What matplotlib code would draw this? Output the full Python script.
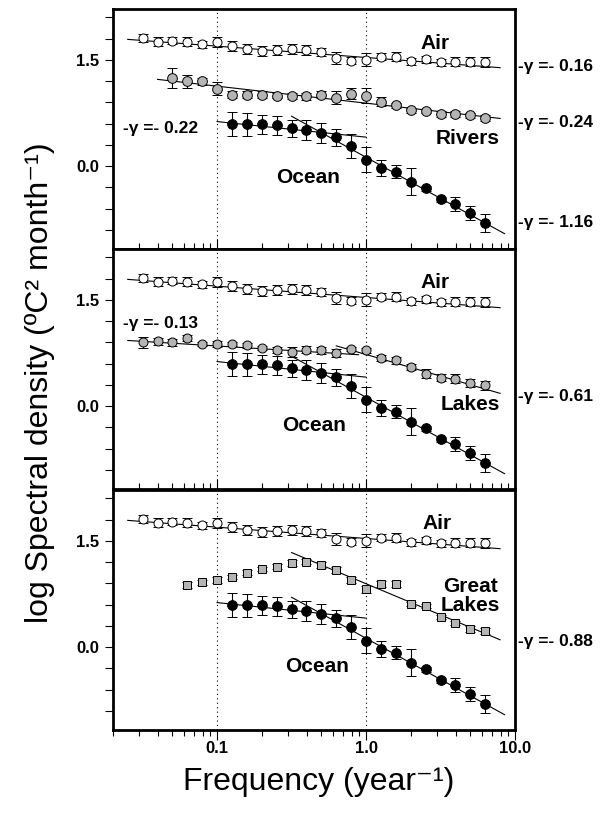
import numpy as np
import matplotlib
matplotlib.use('Agg')
import matplotlib.pyplot as plt
from matplotlib.ticker import FixedLocator, NullFormatter, FixedFormatter
import matplotlib.transforms as mtransforms

plt.rcParams['font.family'] = ['Liberation Sans', 'DejaVu Sans']
plt.rcParams['font.weight'] = 'bold'

# log10 of frequency, 0.1 decade steps
air_logf = np.arange(-1.5, 0.81, 0.1)
air_y = [1.81, 1.76, 1.77, 1.76, 1.725, 1.75, 1.70, 1.66, 1.63, 1.64, 1.655, 1.64,
         1.61, 1.53, 1.49, 1.505, 1.546, 1.546, 1.48, 1.51, 1.47, 1.475, 1.475, 1.47]
air_err = [0.06, 0.06, 0.05, 0.06, 0.05, 0.07, 0.07, 0.07, 0.07, 0.07, 0.07, 0.07,
           0.06, 0.08, 0.05, 0.09, 0.05, 0.06, 0.05, 0.05, 0.05, 0.06, 0.06, 0.07]

ocean_logf = np.arange(-0.9, 0.81, 0.1)
ocean_y = [0.59, 0.59, 0.59, 0.576, 0.538, 0.506, 0.468, 0.411, 0.28, 0.094, -0.025,
           -0.08, -0.22, -0.314, -0.47, -0.535, -0.66, -0.80]
ocean_err = [0.17, 0.16, 0.13, 0.13, 0.12, 0.14, 0.14, 0.12, 0.17, 0.17, 0.11, 0.09,
             0.19, 0.03, 0.03, 0.1, 0.1, 0.13]

rivers_logf = np.arange(-1.3, 0.81, 0.1)
rivers_y = [1.247, 1.20, 1.20, 1.092, 1.008, 1.008, 1.008, 0.998, 0.988, 0.988, 1.008,
            0.965, 1.022, 0.998, 0.913, 0.857, 0.787, 0.777, 0.74, 0.74, 0.717, 0.684]
rivers_err = [0.14, 0.09, 0.05, 0.09, 0.05, 0.05, 0.05, 0.04, 0.04, 0.05, 0.05, 0.09,
              0.08, 0.1, 0.06, 0.04, 0.03, 0.03, 0.04, 0.04, 0.04, 0.04]

lakes_logf = np.arange(-1.5, 0.81, 0.1)
lakes_y = [0.904, 0.918, 0.904, 0.965, 0.881, 0.881, 0.881, 0.857, 0.825, 0.797, 0.763,
           0.797, 0.787, 0.749, 0.81, 0.787, 0.679, 0.646, 0.552, 0.459, 0.403, 0.389,
           0.327, 0.295]
lakes_err = [0.08, 0.05, 0.05, 0.04, 0.03, 0.04, 0.03, 0.03, 0.03, 0.04, 0.07, 0.05,
             0.05, 0.06, 0.03, 0.03, 0.04, 0.05, 0.04, 0.06, 0.05, 0.06, 0.05, 0.06]

glakes_logf = np.arange(-1.2, 0.81, 0.1)
glakes_y = [0.881, 0.914, 0.951, 0.989, 1.054, 1.101, 1.139, 1.186, 1.209, 1.162, 1.092,
            0.951, 0.821, 0.895, 0.895, 0.614, 0.586, 0.427, 0.342, 0.258, 0.224]
glakes_err = [0.04, 0.03, 0.04, 0.03, 0.03, 0.03, 0.03, 0.04, 0.04, 0.04, 0.04,
              0.04, 0.05, 0.04, 0.04, 0.03, 0.03, 0.03, 0.03, 0.04, 0.04]

# fitted lines: (slope = -gamma, intercept at f=1, log10 f start, log10 f end)
air_fit = (-0.16, 1.535, -1.6, 0.9)
rivers_fit = (-0.24, 0.89, -1.4, 0.9)
ocean_fits = [(-0.22, 0.41, -1.0, 0.0), (-1.16, 0.125, -0.5, 0.93)]
lakes_fits = [(-0.13, 0.72, -1.6, -0.05), (-0.61, 0.73, -0.2, 0.9)]
glakes_fit = (-0.88, 0.896, -0.5, 0.9)

W, H = 603, 813
fig = plt.figure(figsize=(W / 100, H / 100), dpi=100)

x0, x1 = 113, 515
panel_tops = [9, 249, 490]
panel_h = 240
axes = []
for top in panel_tops:
    ax = fig.add_axes([x0 / W, (H - top - panel_h) / H, (x1 - x0) / W, panel_h / H])
    axes.append(ax)

gray = '#b4b4b4'


def fit_line(ax, fit):
    s, a, l0, l1 = fit
    lf = np.array([l0, l1])
    ax.plot(10 ** lf, a + s * lf, color='black', lw=0.8, zorder=2)


def series(ax, logf, y, err, marker, fc, ms):
    ax.errorbar(10 ** np.asarray(logf), y, yerr=err, fmt=marker, ms=ms, mfc=fc,
                mec='black', mew=0.7, ecolor='black', elinewidth=0.8, capsize=3.5,
                capthick=0.8, zorder=3)


yticks = np.round(np.arange(-0.9, 2.2, 0.3), 2)
ylabels = ['1.5' if abs(t - 1.5) < 1e-6 else '0.0' if abs(t) < 1e-6 else '' for t in yticks]

for i, ax in enumerate(axes):
    ax.set_xscale('log')
    ax.set_xlim(0.02, 10)
    ax.set_ylim(-1.17, 2.22)
    for v in (0.1, 1.0):
        ax.axvline(v, color='black', ls=(0, (1, 3)), lw=0.8, zorder=1)

    fit_line(ax, air_fit)
    series(ax, air_logf, air_y, air_err, 'o', 'white', 6.5)
    for f in ocean_fits:
        fit_line(ax, f)
    series(ax, ocean_logf, ocean_y, ocean_err, 'o', 'black', 7)

    ax.yaxis.set_major_locator(FixedLocator(yticks))
    ax.yaxis.set_major_formatter(FixedFormatter(ylabels))
    ax.tick_params(axis='y', direction='out', length=6, width=0.8, labelsize=12, pad=4)
    ax.xaxis.set_major_locator(FixedLocator([0.1, 1.0, 10.0]))
    ax.xaxis.set_minor_locator(FixedLocator(
        [m * 10.0 ** e for e in (-2, -1, 0) for m in range(2, 10) if m * 10.0 ** e > 0.0199]))
    ax.xaxis.set_minor_formatter(NullFormatter())
    if i < 2:
        ax.tick_params(axis='x', which='both', direction='in', labelbottom=False)
        ax.tick_params(axis='x', which='major', length=7, width=0.8)
        ax.tick_params(axis='x', which='minor', length=4, width=0.8)
    else:
        ax.xaxis.set_major_formatter(FixedFormatter(['0.1', '1.0', '10.0']))
        ax.tick_params(axis='x', which='major', direction='out', length=7, width=0.8,
                       labelsize=12, pad=1)
        ax.tick_params(axis='x', which='minor', direction='out', length=4, width=0.8)
    for sp in ax.spines.values():
        sp.set_linewidth(2)

ax1, ax2, ax3 = axes

# top panel: rivers
fit_line(ax1, rivers_fit)
series(ax1, rivers_logf, rivers_y, rivers_err, 'o', gray, 7)
# middle panel: lakes
for f in lakes_fits:
    fit_line(ax2, f)
series(ax2, lakes_logf, lakes_y, lakes_err, 'o', gray, 6.5)
# bottom panel: great lakes
fit_line(ax3, glakes_fit)
series(ax3, glakes_logf, glakes_y, glakes_err, 's', gray, 5.5)

lab = dict(fontsize=15, fontweight='bold', ha='center', va='center')
gam = dict(fontsize=12.5, fontweight='bold', va='center')

ax1.text(2.9, 1.73, 'Air', **lab)
ax1.text(4.8, 0.39, 'Rivers', **lab)
ax1.text(0.41, -0.155, 'Ocean', **lab)
ax1.text(0.0235, 0.53, '-γ =- 0.22', ha='left', **gam)

ax2.text(2.9, 1.75, 'Air', **lab)
ax2.text(5.0, 0.027, 'Lakes', **lab)
ax2.text(0.45, -0.27, 'Ocean', **lab)
ax2.text(0.0235, 1.17, '-γ =- 0.13', ha='left', **gam)

ax3.text(3.0, 1.75, 'Air', **lab)
ax3.text(5.0, 0.72, 'Great\nLakes', linespacing=1.0, **lab)
ax3.text(0.47, -0.27, 'Ocean', **lab)

right = [(ax1, 1.406, '0.16'), (ax1, 0.62, '0.24'), (ax1, -0.80, '1.16'),
         (ax2, 0.14, '0.61'), (ax3, 0.08, '0.88')]
for ax, yv, g in right:
    tr = mtransforms.blended_transform_factory(ax.transAxes, ax.transData)
    ax.text(1.008, yv, '-γ =- ' + g, transform=tr, ha='left', clip_on=False, **gam)

fig.text(319 / W, 1 - 782 / H, 'Frequency (year⁻¹)', ha='center', va='center',
         fontsize=23, fontweight='normal')
fig.text(40 / W, 1 - 383 / H, 'log Spectral density (ºC² month⁻¹)',
         ha='center', va='center', rotation=90, fontsize=23, fontweight='normal')

fig.savefig('out.png', dpi=100)
